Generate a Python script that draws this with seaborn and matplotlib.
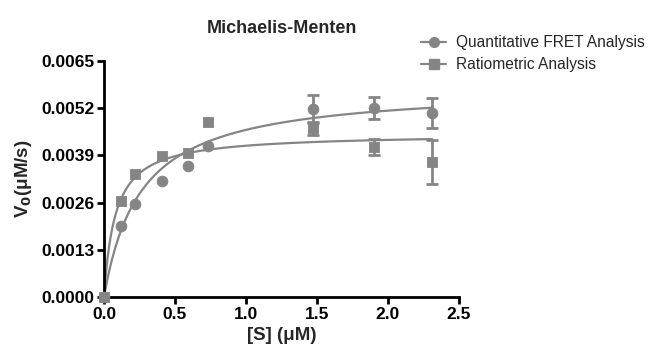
import numpy as np
import pandas as pd
import matplotlib
matplotlib.use("Agg")
import matplotlib.pyplot as plt
from matplotlib.lines import Line2D
import seaborn as sns

# --- data ---
s_fret = [0.0, 0.12, 0.22, 0.41, 0.59, 0.73, 1.47, 1.90, 2.31]
v_fret = [0.0, 0.00195, 0.00255, 0.00320, 0.00361, 0.00416, 0.00518, 0.00520, 0.00507]
err_fret = [0, 0, 0, 0, 0, 0, 0.00038, 0.00030, 0.00042]

s_ratio = [0.0, 0.12, 0.22, 0.41, 0.59, 0.73, 1.47, 1.90, 2.31]
v_ratio = [0.0, 0.00265, 0.00338, 0.00387, 0.00396, 0.00482, 0.00465, 0.00413, 0.00372]
err_ratio = [0, 0, 0, 0, 0, 0, 0.00018, 0.00022, 0.00060]

# Michaelis-Menten fit parameters (estimated from the drawn curves)
vmax_fret, km_fret = 0.0058, 0.26
vmax_ratio, km_ratio = 0.0045, 0.08

x_ticks = [0.0, 0.5, 1.0, 1.5, 2.0, 2.5]
y_ticks = [0.0, 0.0013, 0.0026, 0.0039, 0.0052, 0.0065]

grey = "#858585"

sns.set_theme(style="ticks")
plt.rcParams["font.family"] = ["Liberation Sans", "DejaVu Sans"]

fig = plt.figure(figsize=(6.57, 3.52), dpi=100)
ax = fig.add_axes([0.1583, 0.1563, 0.5403, 0.6704])

s_fit = np.linspace(0, 2.31, 200)
fit_df = pd.DataFrame({
    "S": np.concatenate([s_fit, s_fit]),
    "V": np.concatenate([vmax_fret * s_fit / (km_fret + s_fit),
                         vmax_ratio * s_fit / (km_ratio + s_fit)]),
    "series": ["fret"] * len(s_fit) + ["ratio"] * len(s_fit),
})
sns.lineplot(data=fit_df, x="S", y="V", units="series", estimator=None,
             color=grey, linewidth=1.6, ax=ax, legend=False)

# error bars only where there is one
for s, v, e in [(s_fret, v_fret, err_fret), (s_ratio, v_ratio, err_ratio)]:
    keep = [i for i in range(len(e)) if e[i] > 0]
    ax.errorbar([s[i] for i in keep], [v[i] for i in keep],
                yerr=[e[i] for i in keep], fmt="none", ecolor=grey,
                elinewidth=2, capsize=4.5, capthick=2)

sns.scatterplot(x=s_fret, y=v_fret, marker="o", s=60, color=grey,
                edgecolor=grey, ax=ax, zorder=3, clip_on=False)
sns.scatterplot(x=s_ratio, y=v_ratio, marker="s", s=60, color=grey,
                edgecolor=grey, ax=ax, zorder=3, clip_on=False)

ax.set_xlim(0, 2.5)
ax.set_ylim(0, 0.0065)
ax.set_xticks(x_ticks)
ax.set_xticklabels([f"{t:.1f}" for t in x_ticks])
ax.set_yticks(y_ticks)
ax.set_yticklabels([f"{t:.4f}" for t in y_ticks])
for sp in ["top", "right"]:
    ax.spines[sp].set_visible(False)
for sp in ["left", "bottom"]:
    ax.spines[sp].set_linewidth(2)
    ax.spines[sp].set_color("black")
ax.tick_params(axis="both", direction="out", length=5, width=2,
               labelsize=12.5, colors="black", pad=2)
for lab in ax.get_xticklabels() + ax.get_yticklabels():
    lab.set_fontweight("bold")

ax.set_xlabel("[S] (\u03bcM)", fontsize=13.5, fontweight="bold", labelpad=4)
ax.set_ylabel("V$_\\mathbf{0}$(\u03bcM/s)", fontsize=13.5, fontweight="bold", labelpad=5)
ax.set_title("Michaelis-Menten", fontsize=13, fontweight="bold", pad=20)

handles = [
    Line2D([], [], color=grey, marker="o", markersize=7, linewidth=1.6),
    Line2D([], [], color=grey, marker="s", markersize=7, linewidth=1.6),
]
fig.legend(handles, ["Quantitative FRET Analysis", "Ratiometric Analysis"],
           loc="upper left", bbox_to_anchor=(0.62, 0.94), frameon=False,
           fontsize=11.2, handlelength=1.6, handletextpad=0.6, labelspacing=0.45)

fig.savefig("out.png", dpi=100)
